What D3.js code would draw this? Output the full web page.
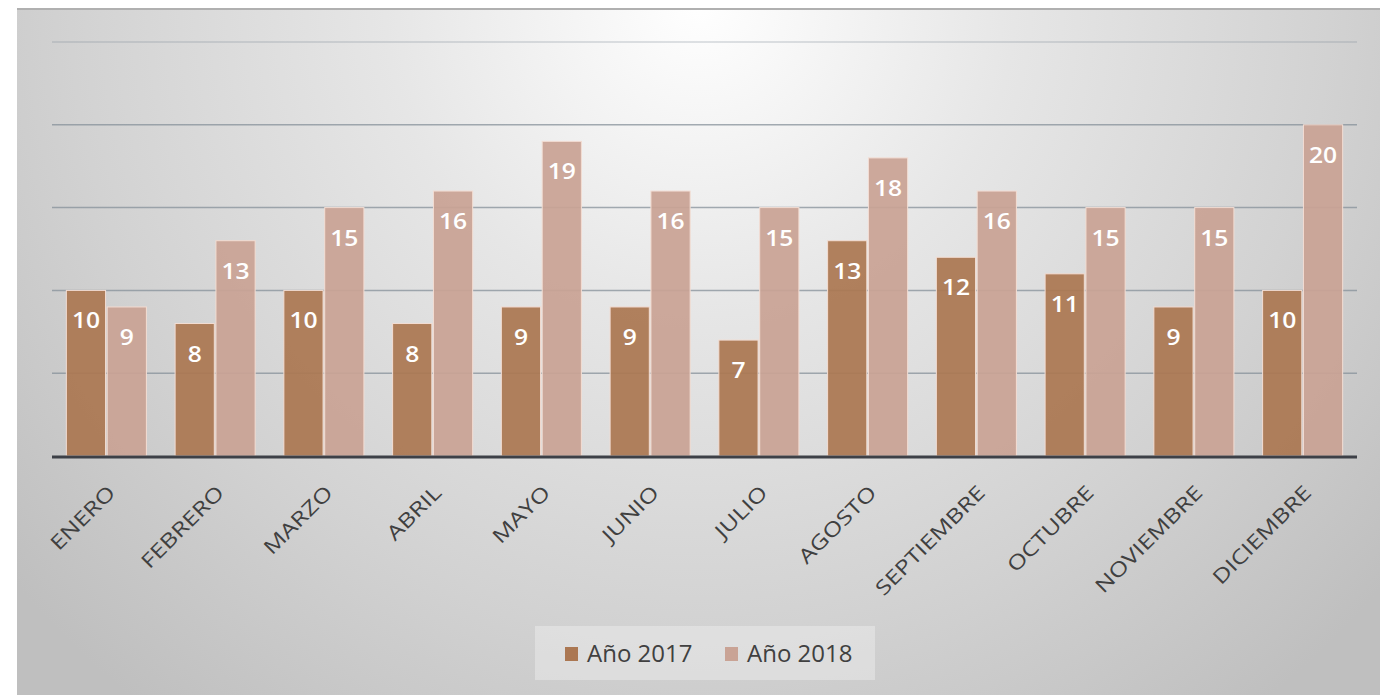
<!DOCTYPE html>
<html>
<head>
<meta charset="utf-8">
<script src="https://cdn.jsdelivr.net/npm/d3@7"></script>
<style>
  body { margin: 0; background: #fff; }
  svg { display: block; }
</style>
</head>
<body>
<div id="chart"></div>
<script>
  // Data
  var months = ["ENERO", "FEBRERO", "MARZO", "ABRIL", "MAYO", "JUNIO", "JULIO",
    "AGOSTO", "SEPTIEMBRE", "OCTUBRE", "NOVIEMBRE", "DICIEMBRE"]
  var series = ["Año 2017", "Año 2018"]
  var values2017 = [10, 8, 10, 8, 9, 9, 7, 13, 12, 11, 9, 10]
  var values2018 = [9, 13, 15, 16, 19, 16, 15, 18, 16, 15, 15, 20]
  var gridTicks = [5, 10, 15, 20, 25]

  var width = 1380
  var height = 695

  var svg = d3.select("#chart")
    .append("svg")
    .attr("width", width)
    .attr("height", height)

  // background gradient
  var defs = svg.append("defs")
  var grad = defs.append("radialGradient")
    .attr("id", "bg")
    .attr("gradientUnits", "userSpaceOnUse")
    .attr("cx", 700).attr("cy", 0).attr("r", 900)
  grad.append("stop").attr("offset", "0%").attr("stop-color", "#ffffff")
  grad.append("stop").attr("offset", "35%").attr("stop-color", "#e6e6e6")
  grad.append("stop").attr("offset", "70%").attr("stop-color", "#d2d2d2")
  grad.append("stop").attr("offset", "100%").attr("stop-color", "#bfbfbf")

  svg.append("rect")
    .attr("x", 17).attr("y", 8)
    .attr("width", width - 17).attr("height", height - 8)
    .attr("fill", "url(#bg)")
  svg.append("line")
    .attr("x1", 17).attr("x2", width)
    .attr("y1", 9).attr("y2", 9)
    .attr("stroke", "#b0b0b0")
    .attr("stroke-width", 2)

  var table = months.map(function (m, i) {
    return { month: m, vals: [values2017[i], values2018[i]] }
  })

  // scales
  var x = d3.scaleBand()
    .domain(months)
    .range([52, 1357])
    .paddingInner(0.264)
    .paddingOuter(0.132)

  var xs = d3.scaleBand()
    .domain(series)
    .range([0, x.bandwidth()])
    .paddingInner(0.04)

  var y = d3.scaleLinear()
    .domain([0, 25])
    .range([456, 42])

  var colors = d3.scaleOrdinal()
    .domain(series)
    .range(["#ab7752", "#c9a395"])

  // gridlines
  svg.append("g")
    .selectAll("line")
    .data(gridTicks)
    .enter()
    .append("line")
    .attr("x1", 52).attr("x2", 1357)
    .attr("y1", function (d) { return y(d) })
    .attr("y2", function (d) { return y(d) })
    .attr("stroke", "#85909a")
    .attr("stroke-opacity", function (d) { return d == 25 ? 0.35 : 0.75 })
    .attr("stroke-width", 1.5)

  // bars
  var groups = svg.append("g")
    .selectAll("g")
    .data(table)
    .enter()
    .append("g")
    .attr("transform", function (d) { return "translate(" + x(d.month) + ",0)" })

  groups.selectAll("rect")
    .data(function (d) { return d.vals.map(function (v, i) { return { s: series[i], v: v } }) })
    .enter()
    .append("rect")
    .attr("x", function (d) { return xs(d.s) })
    .attr("y", function (d) { return y(d.v) })
    .attr("width", xs.bandwidth())
    .attr("height", function (d) { return y(0) - y(d.v) })
    .attr("fill", function (d) { return colors(d.s) })
    .attr("fill-opacity", 0.93)
    .attr("stroke", "#f3ddd3")
    .attr("stroke-width", 1)

  groups.selectAll("text")
    .data(function (d) { return d.vals.map(function (v, i) { return { s: series[i], v: v } }) })
    .enter()
    .append("text")
    .attr("transform", function (d) {
      return "translate(" + (xs(d.s) + xs.bandwidth() / 2) + "," + (y(d.v) + 38) + ") scale(1.12,1)"
    })
    .attr("text-anchor", "middle")
    .attr("fill", "#ffffff")
    .style("font-family", "'Open Sans', sans-serif")
    .style("font-weight", 600)
    .style("font-size", "22px")
    .text(function (d) { return d.v })

  // baseline
  svg.append("line")
    .attr("x1", 52).attr("x2", 1357)
    .attr("y1", y(0) + 1).attr("y2", y(0) + 1)
    .attr("stroke", "#3d4047")
    .attr("stroke-width", 3)

  // category labels
  svg.append("g")
    .selectAll("text")
    .data(months)
    .enter()
    .append("text")
    .attr("text-anchor", "end")
    .attr("transform", function (d) {
      return "translate(" + (x(d) + x.bandwidth() / 2 + 10) + "," + 494 + ") rotate(-45) scale(1.25,1)"
    })
    .attr("fill", "#404040")
    .style("font-family", "'Open Sans', sans-serif")
    .style("font-size", "20px")
    .text(function (d) { return d })

  // legend
  var legend = svg.append("g")
  legend.append("rect")
    .attr("x", 535).attr("y", 626)
    .attr("width", 340).attr("height", 54)
    .attr("fill", "#ffffff")
    .attr("fill-opacity", 0.3)

  var legendX = [565, 725]
  var items = legend.selectAll("g")
    .data(series)
    .enter()
    .append("g")
    .attr("transform", function (d, i) { return "translate(" + legendX[i] + ",0)" })
  items.append("rect")
    .attr("x", 0).attr("y", 647)
    .attr("width", 13).attr("height", 14)
    .attr("fill", function (d) { return colors(d) })
  items.append("text")
    .attr("x", 22).attr("y", 662)
    .attr("fill", "#404040")
    .style("font-family", "'Open Sans', sans-serif")
    .style("font-size", "24px")
    .text(function (d) { return d })
</script>
</body>
</html>
